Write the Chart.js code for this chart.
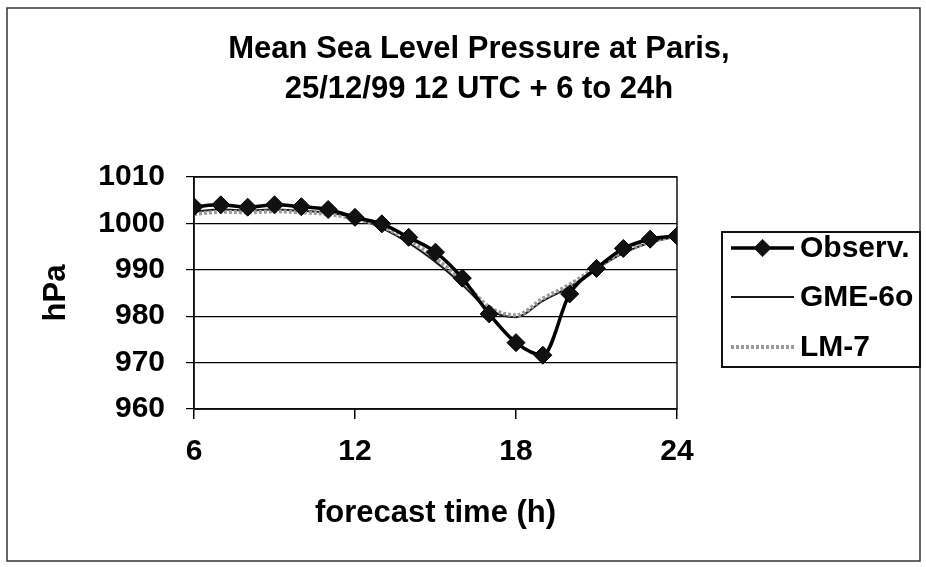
<!DOCTYPE html>
<html>
<head>
<meta charset="utf-8">
<title>MSLP Paris</title>
<script src="https://cdn.jsdelivr.net/npm/chart.js@4/dist/chart.umd.min.js"></script>
<style>
  html, body { margin: 0; padding: 0; background: #fff; }
  canvas { display: block; }
</style>
</head>
<body>
<canvas id="mslp-canvas" width="926" height="567"></canvas>
<script>
// forecast hours and pressures (hPa)
var hours = [6, 7, 8, 9, 10, 11, 12, 13, 14, 15, 16, 17, 18, 19, 20, 21, 22, 23, 24];
var observ = [1003.6, 1004.0, 1003.5, 1004.0, 1003.6, 1003.0, 1001.3, 999.9, 997.0, 993.8,
              988.2, 980.5, 974.3, 971.6, 984.8, 990.3, 994.6, 996.6, 997.3];
var gme6o = [1002.5, 1003.0, 1002.8, 1003.0, 1002.7, 1002.3, 1001.2, 999.0, 995.8, 991.7,
             986.8, 981.3, 979.8, 983.3, 986.3, 990.2, 993.6, 995.9, 997.2];
var lm7 = [1002.0, 1002.5, 1002.4, 1002.6, 1002.4, 1002.0, 1001.0, 999.3, 996.4, 992.5,
           987.6, 982.0, 980.2, 983.8, 986.8, 990.6, 993.9, 996.1, 997.3];
var seriesNames = ['Observ.', 'GME-6o', 'LM-7'];
var titleLines = ['Mean Sea Level Pressure at Paris,', '25/12/99 12 UTC + 6 to 24h'];
var hourTicks = [6, 12, 18, 24];
var pressureMin = 960, pressureMax = 1010, pressureStep = 10;

var FONT = "'Liberation Sans', Arial, sans-serif";

function toPoints(values) {
    var pts = [];
    for (var i = 0; i < hours.length; i++) {
        pts.push({x: hours[i], y: values[i]});
    }
    return pts;
}

// title, plot frame, outer frame and the boxed legend on the right
var decorations = {
    id: 'decorations',
    beforeDatasetsDraw: function (chart) {
        var ctx = chart.ctx, a = chart.chartArea;
        ctx.save();
        ctx.strokeStyle = '#111';
        ctx.lineWidth = 1.5;
        ctx.strokeRect(a.left, a.top, a.right - a.left, a.bottom - a.top);
        ctx.restore();
    },
    afterDraw: function (chart) {
        var ctx = chart.ctx;
        ctx.save();

        // outer frame
        ctx.strokeStyle = '#333';
        ctx.lineWidth = 1.5;
        ctx.strokeRect(7, 8, 913, 553);

        // title
        ctx.fillStyle = '#000';
        ctx.font = 'bold 31px ' + FONT;
        ctx.textAlign = 'center';
        ctx.textBaseline = 'alphabetic';
        ctx.fillText(titleLines[0], 479, 58);
        ctx.fillText(titleLines[1], 479, 98);

        // legend box
        ctx.strokeStyle = '#111';
        ctx.lineWidth = 2;
        ctx.strokeRect(722, 232, 198, 135);

        var rows = [248, 297, 347];
        var sets = chart.data.datasets;
        for (var i = 0; i < sets.length; i++) {
            var ds = sets[i];
            var y = rows[i];
            ctx.strokeStyle = ds.borderColor;
            ctx.lineWidth = ds.borderWidth;
            ctx.setLineDash(ds.borderDash || []);
            ctx.beginPath();
            ctx.moveTo(731, y);
            ctx.lineTo(794, y);
            ctx.stroke();
            ctx.setLineDash([]);
            if (ds.pointRadius > 0) {
                var r = ds.pointRadius;
                ctx.fillStyle = ds.pointBackgroundColor;
                ctx.beginPath();
                ctx.moveTo(762.5, y - r);
                ctx.lineTo(762.5 + r, y);
                ctx.lineTo(762.5, y + r);
                ctx.lineTo(762.5 - r, y);
                ctx.closePath();
                ctx.fill();
            }
            ctx.fillStyle = '#000';
            ctx.font = 'bold 30px ' + FONT;
            ctx.textAlign = 'left';
            ctx.textBaseline = 'middle';
            ctx.fillText(ds.label, 800, y + 1);
        }
        ctx.restore();
    }
};

var mslpConfig = {
    type: 'line',
    data: {
        datasets: [{
            label: seriesNames[0],
            data: toPoints(observ),
            borderColor: '#000',
            borderWidth: 3.5,
            pointStyle: 'rectRot',
            pointRadius: 9,
            pointBackgroundColor: '#111',
            pointBorderColor: '#000',
            pointBorderWidth: 1,
            cubicInterpolationMode: 'monotone',
            order: 0
        }, {
            label: seriesNames[1],
            data: toPoints(gme6o),
            borderColor: '#1a1a1a',
            borderWidth: 2,
            pointRadius: 0,
            cubicInterpolationMode: 'monotone',
            order: 2
        }, {
            label: seriesNames[2],
            data: toPoints(lm7),
            borderColor: '#9a9a9a',
            borderWidth: 4,
            borderDash: [3, 2],
            pointRadius: 0,
            cubicInterpolationMode: 'monotone',
            order: 1
        }]
    },
    options: {
        responsive: false,
        animation: false,
        layout: {
            padding: {left: 0, top: 177, right: 249, bottom: 0}
        },
        plugins: {
            legend: {display: false},
            title: {display: false},
            tooltip: {enabled: false}
        },
        scales: {
            x: {
                type: 'linear',
                min: hours[0],
                max: hours[hours.length - 1],
                afterBuildTicks: function (scale) {
                    scale.ticks = hourTicks.map(function (v) { return {value: v}; });
                },
                afterFit: function (scale) { scale.height = 158; },
                ticks: {
                    color: '#000',
                    font: {family: FONT, size: 30, weight: 'bold'},
                    padding: 15,
                    maxRotation: 0,
                    autoSkip: false,
                    callback: function (v) { return String(v); }
                },
                grid: {
                    drawOnChartArea: false,
                    color: '#000',
                    tickLength: 10,
                    lineWidth: 1.5
                },
                border: {color: '#000', width: 1.5},
                title: {
                    display: true,
                    text: 'forecast time (h)',
                    color: '#000',
                    font: {family: FONT, size: 31, weight: 'bold'},
                    padding: {top: 0, bottom: 35}
                }
            },
            y: {
                min: pressureMin,
                max: pressureMax,
                afterFit: function (scale) { scale.width = 194; },
                ticks: {
                    stepSize: pressureStep,
                    color: '#000',
                    font: {family: FONT, size: 30, weight: 'bold'},
                    padding: 21,
                    callback: function (v) { return String(v); }
                },
                grid: {
                    color: '#000',
                    lineWidth: 1.2,
                    tickLength: 8
                },
                border: {color: '#000', width: 1.5},
                title: {
                    display: true,
                    text: 'hPa',
                    color: '#000',
                    font: {family: FONT, size: 31, weight: 'bold'},
                    padding: {top: 38, bottom: 0}
                }
            }
        }
    },
    plugins: [decorations]
};

var ctx = document.getElementById('mslp-canvas').getContext('2d');
window.mslpChart = new Chart(ctx, mslpConfig);
</script>
</body>
</html>
